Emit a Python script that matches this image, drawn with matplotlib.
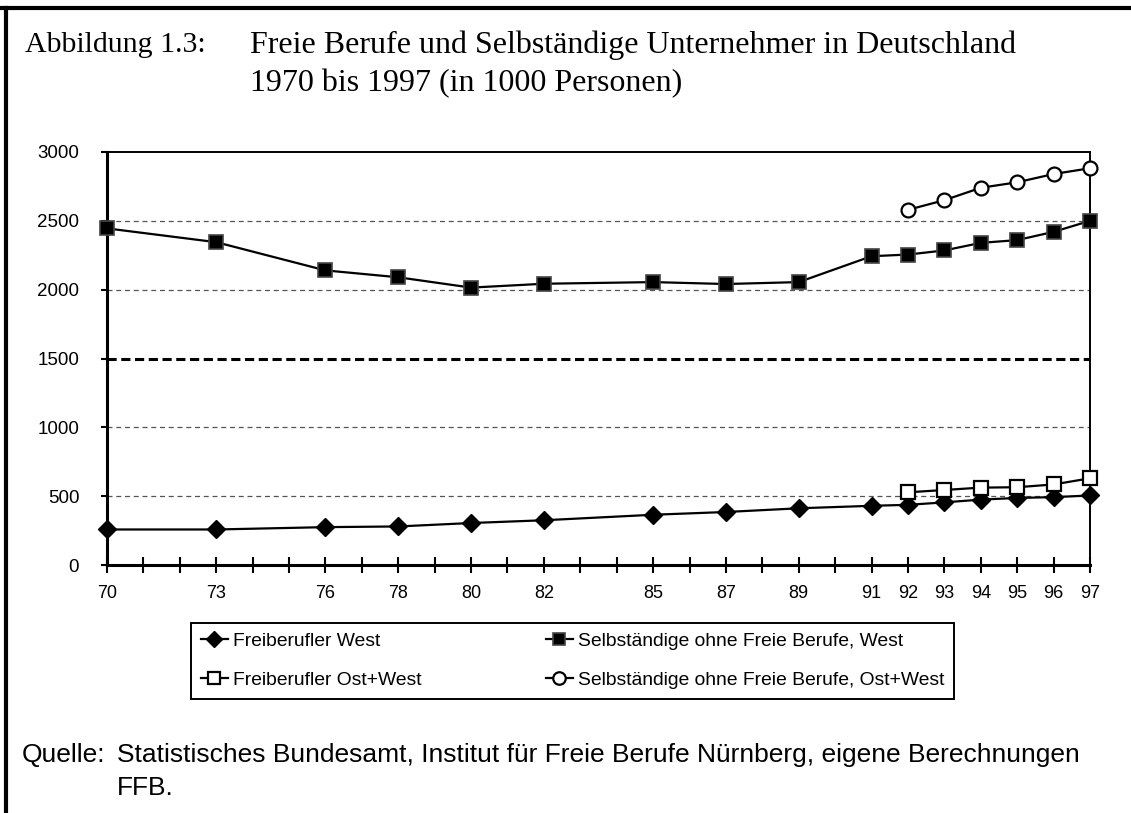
import matplotlib
matplotlib.use("Agg")
import matplotlib.pyplot as plt
from matplotlib.lines import Line2D

# values (1000 persons)
jahre_west = [70, 73, 76, 78, 80, 82, 85, 87, 89, 91, 92, 93, 94, 95, 96, 97]
freiberufler_west = [258, 258, 275, 280, 305, 325, 365, 385, 412, 430, 437, 455, 475, 487, 493, 505]
selbst_west = [2445, 2345, 2140, 2090, 2015, 2043, 2055, 2041, 2055, 2243, 2255, 2285, 2340, 2360, 2420, 2500]

jahre_gesamt = [92, 93, 94, 95, 96, 97]
freiberufler_gesamt = [528, 545, 562, 565, 585, 630]
selbst_gesamt = [2580, 2650, 2740, 2780, 2840, 2882]

xlabels = [70, 73, 76, 78, 80, 82, 85, 87, 89, 91, 92, 93, 94, 95, 96, 97]
yticks = [0, 500, 1000, 1500, 2000, 2500, 3000]

W, H = 1131, 813
fig = plt.figure(figsize=(W / 100, H / 100), dpi=100)
ax = fig.add_axes([107 / W, 1 - 565 / H, (1090 - 107) / W, (565 - 152) / H])

# grid lines
for v in [500, 1000, 2000, 2500]:
    ax.axhline(v, color="#555555", lw=0.9, ls=(0, (4, 3)), zorder=1)
ax.axhline(1500, color="black", lw=2.2, ls=(0, (3, 1.5)), zorder=1)

ax.plot(jahre_west, freiberufler_west, color="black", lw=1.6, marker="D",
        ms=9, mfc="black", mec="black", label="Freiberufler West", zorder=3, clip_on=False)
ax.plot(jahre_gesamt, freiberufler_gesamt, color="black", lw=1.6, marker="s",
        ms=10, mfc="white", mec="black", mew=1.6, label="Freiberufler Ost+West", zorder=3, clip_on=False)
ax.plot(jahre_west, selbst_west, color="black", lw=1.6, marker="s",
        ms=10, mfc="black", mec="#444444", mew=1.2, label="Selbständige ohne Freie Berufe, West", zorder=3, clip_on=False)
ax.plot(jahre_gesamt, selbst_gesamt, color="black", lw=1.6, marker="o",
        ms=10, mfc="white", mec="black", mew=1.6, label="Selbständige ohne Freie Berufe, Ost+West", zorder=3, clip_on=False)

ax.set_xlim(70, 97)
ax.set_ylim(0, 3000)
ax.set_xticks(range(70, 98))
ax.set_xticklabels([str(y) if y in xlabels else "" for y in range(70, 98)],
                   fontsize=13, family="Liberation Sans")
ax.set_yticks(yticks)
ax.set_yticklabels([str(v) for v in yticks], fontsize=13.5, family="Liberation Sans")
ax.tick_params(axis="x", direction="inout", length=11, width=1.5, pad=9)
ax.tick_params(axis="y", direction="out", length=4, width=1.5, pad=16)

ax.spines["left"].set_linewidth(2.2)
ax.spines["bottom"].set_linewidth(2.2)
ax.spines["top"].set_linewidth(1.4)
ax.spines["right"].set_linewidth(1.4)

leg = fig.legend(loc="upper left", bbox_to_anchor=(191 / W, 1 - 623 / H),
                 borderaxespad=0, ncol=2, fancybox=False, framealpha=1, edgecolor="black",
                 prop={"family": "Liberation Sans", "size": 13.9},
                 handlelength=1.4, handletextpad=0.3, columnspacing=6.4,
                 labelspacing=1.1, borderpad=0.5, markerscale=0.9)
leg.get_frame().set_linewidth(1.4)

# title
fig.text(25 / W, 1 - 45 / H, "Abbildung 1.3:", fontsize=21.5, family="Liberation Serif", va="center")
fig.text(250 / W, 1 - 45 / H, "Freie Berufe und Selbständige Unternehmer in Deutschland",
         fontsize=23, family="Liberation Serif", va="center")
fig.text(250 / W, 1 - 84 / H, "1970 bis 1997 (in 1000 Personen)",
         fontsize=23, family="Liberation Serif", va="center")

# source
fig.text(22 / W, 1 - 755 / H, "Quelle:", fontsize=19, family="Liberation Sans", va="center")
fig.text(117 / W, 1 - 755 / H,
         "Statistisches Bundesamt, Institut für Freie Berufe Nürnberg, eigene Berechnungen",
         fontsize=19, family="Liberation Sans", va="center")
fig.text(117 / W, 1 - 788 / H, "FFB.", fontsize=19, family="Liberation Sans", va="center")

# page frame (top and left edges)
fig.add_artist(Line2D([0, 1], [1 - 8 / H, 1 - 8 / H], color="black", lw=3, transform=fig.transFigure))
fig.add_artist(Line2D([6 / W, 6 / W], [0, 1 - 8 / H], color="black", lw=3, transform=fig.transFigure))

fig.savefig("out.png", dpi=100)
